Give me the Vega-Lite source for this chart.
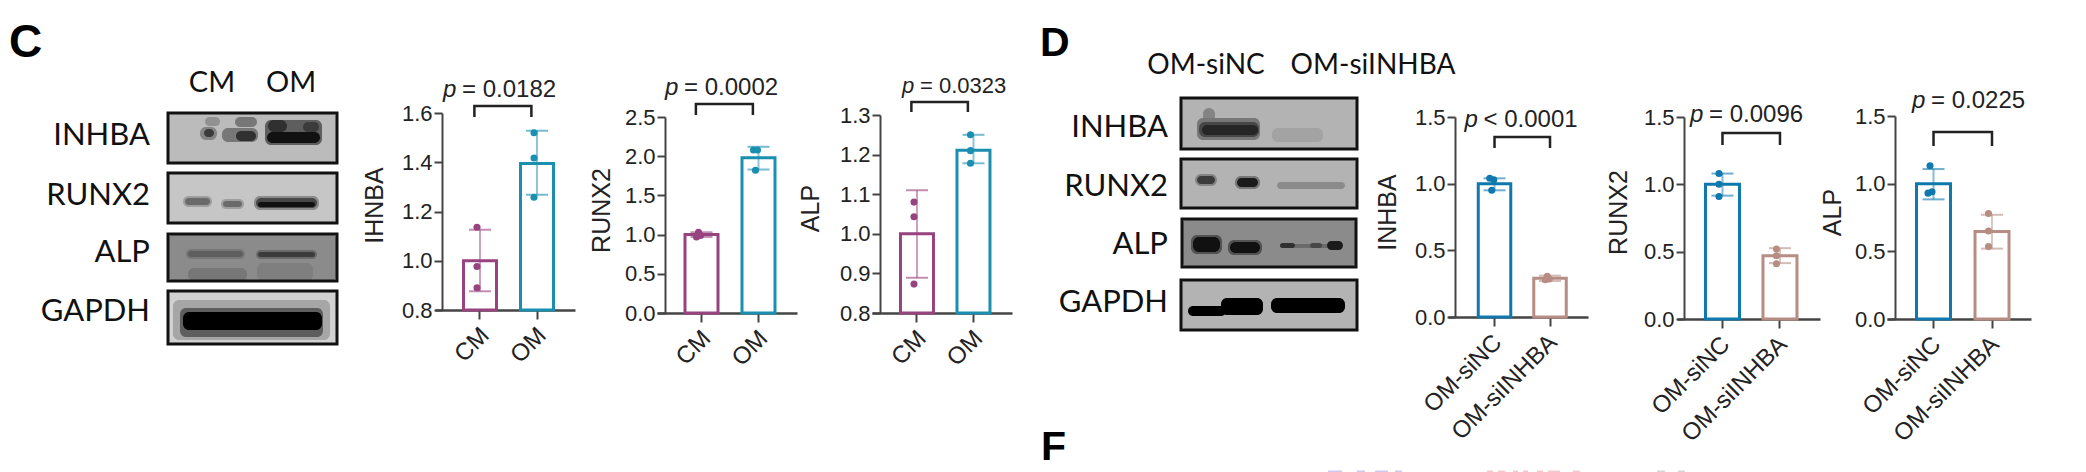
{"$schema":"https://vega.github.io/schema/vega-lite/v6.json","padding":0,"background":"white","spacing":0,"bounds":"flush","config":{"view":{"stroke":null},"font":"Liberation Sans","axis":{"grid":false}},
"resolve":{"scale":{"color":"independent","stroke":"independent"}},
"hconcat":[
{"width":435,"height":472,"encoding":{"x":{"field":"x0","type":"quantitative","scale":{"domain":[0,435],"range":[0,435],"nice":false,"zero":false},"axis":null},"y":{"field":"y0","type":"quantitative","scale":{"domain":[0,472],"range":[0,472],"nice":false,"zero":false},"axis":null}},"layer":[
{"data":{"values":[
{"x0":168,"x1":337,"y0":113,"y1":163,"signal":0.24},{"x0":168,"x1":337,"y0":173,"y1":223,"signal":0.2},{"x0":168,"x1":337,"y0":234,"y1":281,"signal":0.42},{"x0":168,"x1":337,"y0":291,"y1":344,"signal":0.16},
{"x0":205,"x1":220,"y0":117,"y1":126,"signal":0.4},{"x0":200,"x1":217,"y0":127,"y1":140,"signal":0.45},{"x0":204,"x1":214,"y0":129,"y1":137,"signal":0.75},{"x0":235,"x1":257,"y0":117,"y1":127,"signal":0.5},{"x0":222,"x1":258,"y0":128,"y1":142,"signal":0.5},{"x0":236,"x1":256,"y0":131,"y1":141,"signal":0.8},{"x0":265,"x1":322,"y0":120,"y1":145,"signal":0.6},{"x0":268,"x1":287,"y0":120,"y1":132,"signal":0.8},{"x0":303,"x1":319,"y0":122,"y1":132,"signal":0.75},{"x0":267,"x1":320,"y0":132,"y1":143,"signal":0.95},
{"x0":183,"x1":212,"y0":196,"y1":207,"signal":0.35},{"x0":185,"x1":210,"y0":198,"y1":205,"signal":0.55},{"x0":221,"x1":244,"y0":199,"y1":209,"signal":0.35},{"x0":223,"x1":242,"y0":201,"y1":207,"signal":0.55},{"x0":254,"x1":319,"y0":196,"y1":210,"signal":0.42},{"x0":256,"x1":317,"y0":198,"y1":208,"signal":0.7},{"x0":258,"x1":315,"y0":202,"y1":207,"signal":0.95},
{"x0":188,"x1":247,"y0":268,"y1":281,"signal":0.5},{"x0":257,"x1":313,"y0":263,"y1":281,"signal":0.47},{"x0":186,"x1":245,"y0":249,"y1":259,"signal":0.5},{"x0":188,"x1":243,"y0":251,"y1":257,"signal":0.6},{"x0":256,"x1":317,"y0":250,"y1":259,"signal":0.55},{"x0":258,"x1":315,"y0":252,"y1":257,"signal":0.75},
{"x0":173,"x1":330,"y0":300,"y1":340,"signal":0.32},{"x0":180,"x1":323,"y0":308,"y1":337,"signal":0.6},{"x0":183,"x1":322,"y0":312,"y1":330,"signal":1}
]},"mark":{"type":"rect","cornerRadius":6},"encoding":{"x2":{"field":"x1"},"y2":{"field":"y1"},"color":{"field":"signal","type":"quantitative","scale":{"domain":[0,1],"range":["#ffffff","#000000"]},"legend":null}}},
{"data":{"values":[{"x0":168,"x1":337,"y0":113,"y1":163},{"x0":168,"x1":337,"y0":173,"y1":223},{"x0":168,"x1":337,"y0":234,"y1":281},{"x0":168,"x1":337,"y0":291,"y1":344}]},"mark":{"type":"rect","fill":"transparent","stroke":"#111111","strokeWidth":3},"encoding":{"x2":{"field":"x1"},"y2":{"field":"y1"}}},
{"data":{"values":[{"x0":150,"y0":136,"label":"INHBA"},{"x0":150,"y0":196,"label":"RUNX2"},{"x0":150,"y0":253,"label":"ALP"},{"x0":150,"y0":312,"label":"GAPDH"}]},"mark":{"type":"text","font":"Lato","fontSize":31,"align":"right","baseline":"middle","color":"#111111"},"encoding":{"text":{"field":"label"}}},
{"data":{"values":[{"x0":212,"y0":83,"label":"CM"},{"x0":291,"y0":83,"label":"OM"}]},"mark":{"type":"text","font":"Lato","fontSize":29,"align":"center","baseline":"middle","color":"#111111"},"encoding":{"text":{"field":"label"}}},
{"data":{"values":[{"x0":9,"y0":57,"label":"C"}]},"mark":{"type":"text","fontSize":46,"fontWeight":"bold","align":"left","baseline":"alphabetic","color":"#000000"},"encoding":{"text":{"field":"label"}}}
]},
{"width":222,"height":310,"encoding":{"x":{"field":"group","type":"nominal","scale":{"type":"band","domain":["CM","OM"],"range":[0,140],"paddingInner":0.421,"paddingOuter":0.4385,"align":0.57},"axis":{"title":null,"labelAngle":-45,"labelFontSize":24,"labelColor":"#222222","tickSize":9,"tickWidth":2,"tickColor":"#444444","domainWidth":2.5,"domainColor":"#444444","labelPadding":4,"labelOffset":-3}},"y":{"field":"value","type":"quantitative","stack":null,"title":"IHNBA","scale":{"domain":[0.8,1.6],"range":[310,113],"nice":false,"zero":false},"axis":{"title":"IHNBA","titleY":205,"titleFontSize":25,"titleFontWeight":"normal","titleColor":"#222222","titlePadding":14,"values":[0.8,1.0,1.2,1.4,1.6],"format":".1f","labelFontSize":22,"labelColor":"#222222","offset":-7,"tickSize":8,"tickWidth":2,"tickColor":"#444444","domainWidth":2,"domainColor":"#444444","labelPadding":2}}},"layer":[
{"data":{"values":[{"group":"CM","value":1.0},{"group":"OM","value":1.395}]},"mark":{"type":"bar","fill":"white","strokeWidth":3,"width":33},"encoding":{"stroke":{"field":"group","type":"nominal","scale":{"domain":["CM","OM"],"range":["#97437f","#1a8fb0"]},"legend":null}}},
{"data":{"values":[{"group":"CM","value":1.126,"lo":0.876},{"group":"OM","value":1.528,"lo":1.268}]},"mark":{"type":"rule","strokeWidth":2,"opacity":0.5},"encoding":{"y2":{"field":"lo"},"stroke":{"field":"group","type":"nominal","legend":null}}},
{"data":{"values":[{"group":"CM","value":1.126},{"group":"CM","value":0.876},{"group":"OM","value":1.528},{"group":"OM","value":1.268}]},"mark":{"type":"tick","size":22,"thickness":2,"opacity":0.6},"encoding":{"color":{"field":"group","type":"nominal","scale":{"domain":["CM","OM"],"range":["#97437f","#1a8fb0"]},"legend":null}}},
{"data":{"values":[{"group":"CM","value":1.136,"slot":"c"},{"group":"CM","value":0.977,"slot":"c"},{"group":"CM","value":0.89,"slot":"c"},{"group":"OM","value":1.52,"slot":"c"},{"group":"OM","value":1.417,"slot":"c"},{"group":"OM","value":1.258,"slot":"c"}]},"mark":{"type":"point","filled":true,"size":50,"opacity":1},"encoding":{"color":{"field":"group","type":"nominal","legend":null},"xOffset":{"field":"slot","type":"nominal","scale":{"domain":["l","c","r"],"range":[10.5,16.5,22.5]}}}},
{"data":{"values":[{"group":"CM","value":1.584,"seq":1},{"group":"CM","value":1.628,"seq":2},{"group":"OM","value":1.628,"seq":3},{"group":"OM","value":1.584,"seq":4}]},"mark":{"type":"line","stroke":"#222222","strokeWidth":2.5},"encoding":{"x":{"field":"group","type":"nominal","bandPosition":0.33},"order":{"field":"seq","type":"quantitative"}}},
{"data":{"values":[{"group":"CM","value":1.665,"label":"p"}]},"mark":{"type":"text","fontSize":24,"fontStyle":"italic","align":"left","baseline":"alphabetic","dx":-37,"color":"#222222"},"encoding":{"text":{"field":"label"}}},
{"data":{"values":[{"group":"CM","value":1.665,"label":"= 0.0182"}]},"mark":{"type":"text","fontSize":24,"align":"left","baseline":"alphabetic","dx":-18,"color":"#222222"},"encoding":{"text":{"field":"label"}}}
]},
{"width":215,"height":313,"encoding":{"x":{"field":"group","type":"nominal","scale":{"type":"band","domain":["CM","OM"],"range":[0,140],"paddingInner":0.421,"paddingOuter":0.4385,"align":0.56},"axis":{"title":null,"labelAngle":-45,"labelFontSize":24,"labelColor":"#222222","tickSize":9,"tickWidth":2,"tickColor":"#444444","domainWidth":2.5,"domainColor":"#444444","labelPadding":4,"labelOffset":-3}},"y":{"field":"value","type":"quantitative","stack":null,"title":"RUNX2","scale":{"domain":[0,2.5],"range":[313,117],"nice":false,"zero":false},"axis":{"title":"RUNX2","titleY":210,"titleFontSize":25,"titleFontWeight":"normal","titleColor":"#222222","titlePadding":10,"values":[0,0.5,1.0,1.5,2.0,2.5],"format":".1f","labelFontSize":22,"labelColor":"#222222","offset":-8,"tickSize":8,"tickWidth":2,"tickColor":"#444444","domainWidth":2,"domainColor":"#444444","labelPadding":2}}},"layer":[
{"data":{"values":[{"group":"CM","value":1.0},{"group":"OM","value":1.98}]},"mark":{"type":"bar","fill":"white","strokeWidth":3,"width":33},"encoding":{"stroke":{"field":"group","type":"nominal","scale":{"domain":["CM","OM"],"range":["#97437f","#1a8fb0"]},"legend":null}}},
{"data":{"values":[{"group":"CM","value":1.03,"lo":0.97},{"group":"OM","value":2.12,"lo":1.83}]},"mark":{"type":"rule","strokeWidth":2,"opacity":0.5},"encoding":{"y2":{"field":"lo"},"stroke":{"field":"group","type":"nominal","legend":null}}},
{"data":{"values":[{"group":"CM","value":1.03},{"group":"CM","value":0.97},{"group":"OM","value":2.12},{"group":"OM","value":1.83}]},"mark":{"type":"tick","size":22,"thickness":2,"opacity":0.6},"encoding":{"color":{"field":"group","type":"nominal","scale":{"domain":["CM","OM"],"range":["#97437f","#1a8fb0"]},"legend":null}}},
{"data":{"values":[{"group":"CM","value":0.97,"slot":"l"},{"group":"CM","value":1.03,"slot":"c"},{"group":"CM","value":0.99,"slot":"r"},{"group":"OM","value":2.08,"slot":"l"},{"group":"OM","value":2.08,"slot":"r"},{"group":"OM","value":1.82,"slot":"c"}]},"mark":{"type":"point","filled":true,"size":50,"opacity":1},"encoding":{"color":{"field":"group","type":"nominal","legend":null},"xOffset":{"field":"slot","type":"nominal","scale":{"domain":["l","c","r"],"range":[10.5,16.5,22.5]}}}},
{"data":{"values":[{"group":"CM","value":2.526,"seq":1},{"group":"CM","value":2.666,"seq":2},{"group":"OM","value":2.666,"seq":3},{"group":"OM","value":2.526,"seq":4}]},"mark":{"type":"line","stroke":"#222222","strokeWidth":2.5},"encoding":{"x":{"field":"group","type":"nominal","bandPosition":0.33},"order":{"field":"seq","type":"quantitative"}}},
{"data":{"values":[{"group":"CM","value":2.781,"label":"p"}]},"mark":{"type":"text","fontSize":24,"fontStyle":"italic","align":"left","baseline":"alphabetic","dx":-36.5,"color":"#222222"},"encoding":{"text":{"field":"label"}}},
{"data":{"values":[{"group":"CM","value":2.781,"label":"= 0.0002"}]},"mark":{"type":"text","fontSize":24,"align":"left","baseline":"alphabetic","dx":-17.5,"color":"#222222"},"encoding":{"text":{"field":"label"}}}
]},
{"width":168,"height":313,"encoding":{"x":{"field":"group","type":"nominal","scale":{"type":"band","domain":["CM","OM"],"range":[0,140],"paddingInner":0.416,"paddingOuter":0.447,"align":0.564},"axis":{"title":null,"labelAngle":-45,"labelFontSize":24,"labelColor":"#222222","tickSize":9,"tickWidth":2,"tickColor":"#444444","domainWidth":2.5,"domainColor":"#444444","labelPadding":4,"labelOffset":-3}},"y":{"field":"value","type":"quantitative","stack":null,"title":"ALP","scale":{"domain":[0.8,1.3],"range":[313,115],"nice":false,"zero":false},"axis":{"title":"ALP","titleY":208,"titleFontSize":25,"titleFontWeight":"normal","titleColor":"#222222","titlePadding":16,"values":[0.8,0.9,1.0,1.1,1.2,1.3],"format":".1f","labelFontSize":22,"labelColor":"#222222","offset":-8,"tickSize":8,"tickWidth":2,"tickColor":"#444444","domainWidth":2,"domainColor":"#444444","labelPadding":2}}},"layer":[
{"data":{"values":[{"group":"CM","value":1.0},{"group":"OM","value":1.211}]},"mark":{"type":"bar","fill":"white","strokeWidth":3,"width":33},"encoding":{"stroke":{"field":"group","type":"nominal","scale":{"domain":["CM","OM"],"range":["#97437f","#1a8fb0"]},"legend":null}}},
{"data":{"values":[{"group":"CM","value":1.11,"lo":0.889},{"group":"OM","value":1.25,"lo":1.178}]},"mark":{"type":"rule","strokeWidth":2,"opacity":0.5},"encoding":{"y2":{"field":"lo"},"stroke":{"field":"group","type":"nominal","legend":null}}},
{"data":{"values":[{"group":"CM","value":1.11},{"group":"CM","value":0.889},{"group":"OM","value":1.25},{"group":"OM","value":1.178}]},"mark":{"type":"tick","size":22,"thickness":2,"opacity":0.6},"encoding":{"color":{"field":"group","type":"nominal","scale":{"domain":["CM","OM"],"range":["#97437f","#1a8fb0"]},"legend":null}}},
{"data":{"values":[{"group":"CM","value":1.08,"slot":"c"},{"group":"CM","value":1.043,"slot":"c"},{"group":"CM","value":0.873,"slot":"c"},{"group":"OM","value":1.25,"slot":"c"},{"group":"OM","value":1.21,"slot":"c"},{"group":"OM","value":1.178,"slot":"c"}]},"mark":{"type":"point","filled":true,"size":50,"opacity":1},"encoding":{"color":{"field":"group","type":"nominal","legend":null},"xOffset":{"field":"slot","type":"nominal","scale":{"domain":["l","c","r"],"range":[10.5,16.5,22.5]}}}},
{"data":{"values":[{"group":"CM","value":1.3075,"seq":1},{"group":"CM","value":1.333,"seq":2},{"group":"OM","value":1.333,"seq":3},{"group":"OM","value":1.3075,"seq":4}]},"mark":{"type":"line","stroke":"#222222","strokeWidth":2.5},"encoding":{"x":{"field":"group","type":"nominal","bandPosition":0.33},"order":{"field":"seq","type":"quantitative"}}},
{"data":{"values":[{"group":"CM","value":1.3555,"label":"p"}]},"mark":{"type":"text","fontSize":22,"fontStyle":"italic","align":"left","baseline":"alphabetic","dx":-15,"color":"#222222"},"encoding":{"text":{"field":"label"}}},
{"data":{"values":[{"group":"CM","value":1.3555,"label":"= 0.0323"}]},"mark":{"type":"text","fontSize":22,"align":"left","baseline":"alphabetic","dx":3,"color":"#222222"},"encoding":{"text":{"field":"label"}}}
]},
{"width":408,"height":472,"encoding":{"x":{"field":"x0","type":"quantitative","scale":{"domain":[0,408],"range":[0,408],"nice":false,"zero":false},"axis":null},"y":{"field":"y0","type":"quantitative","scale":{"domain":[0,472],"range":[0,472],"nice":false,"zero":false},"axis":null}},"layer":[
{"data":{"values":[
{"x0":141,"x1":317,"y0":98,"y1":149,"signal":0.27},{"x0":141,"x1":317,"y0":159,"y1":208,"signal":0.27},{"x0":142,"x1":316,"y0":219,"y1":267,"signal":0.42},{"x0":141,"x1":317,"y0":280,"y1":330,"signal":0.27},
{"x0":163,"x1":175,"y0":108,"y1":122,"signal":0.45},{"x0":157,"x1":220,"y0":118,"y1":140,"signal":0.5},{"x0":159,"x1":219,"y0":122,"y1":137,"signal":0.7},{"x0":162,"x1":218,"y0":125,"y1":135,"signal":0.85},{"x0":232,"x1":283,"y0":128,"y1":142,"signal":0.33},
{"x0":155,"x1":177,"y0":174,"y1":186,"signal":0.45},{"x0":157,"x1":175,"y0":176,"y1":184,"signal":0.75},{"x0":195,"x1":220,"y0":176,"y1":189,"signal":0.5},{"x0":197,"x1":218,"y0":178,"y1":187,"signal":0.9},{"x0":237,"x1":305,"y0":182,"y1":189,"signal":0.42},
{"x0":240,"x1":300,"y0":244,"y1":248,"signal":0.55},{"x0":151,"x1":182,"y0":235,"y1":254,"signal":0.65},{"x0":153,"x1":180,"y0":237,"y1":252,"signal":0.95},{"x0":188,"x1":222,"y0":240,"y1":255,"signal":0.65},{"x0":190,"x1":220,"y0":242,"y1":253,"signal":0.95},{"x0":240,"x1":255,"y0":243,"y1":248,"signal":0.8},{"x0":270,"x1":282,"y0":243,"y1":248,"signal":0.7},{"x0":287,"x1":303,"y0":241,"y1":250,"signal":0.9},
{"x0":148,"x1":186,"y0":306,"y1":316,"signal":1},{"x0":181,"x1":223,"y0":298,"y1":315,"signal":1},{"x0":231,"x1":305,"y0":298,"y1":313,"signal":1}
]},"mark":{"type":"rect","cornerRadius":6},"encoding":{"x2":{"field":"x1"},"y2":{"field":"y1"},"color":{"field":"signal","type":"quantitative","scale":{"domain":[0,1],"range":["#ffffff","#000000"]},"legend":null}}},
{"data":{"values":[{"x0":141,"x1":317,"y0":98,"y1":149},{"x0":141,"x1":317,"y0":159,"y1":208},{"x0":142,"x1":316,"y0":219,"y1":267},{"x0":141,"x1":317,"y0":280,"y1":330}]},"mark":{"type":"rect","fill":"transparent","stroke":"#111111","strokeWidth":3},"encoding":{"x2":{"field":"x1"},"y2":{"field":"y1"}}},
{"data":{"values":[{"x0":128,"y0":128,"label":"INHBA"},{"x0":128,"y0":187,"label":"RUNX2"},{"x0":128,"y0":245,"label":"ALP"},{"x0":128,"y0":303,"label":"GAPDH"}]},"mark":{"type":"text","font":"Lato","fontSize":31,"align":"right","baseline":"middle","color":"#111111"},"encoding":{"text":{"field":"label"}}},
{"data":{"values":[{"x0":166,"y0":66,"label":"OM-siNC"},{"x0":333,"y0":66,"label":"OM-siINHBA"}]},"mark":{"type":"text","font":"Lato","fontSize":28,"align":"center","baseline":"middle","color":"#111111"},"encoding":{"text":{"field":"label"}}},
{"data":{"values":[{"x0":0,"y0":56,"label":"D"},{"x0":1,"y0":460,"label":"F"}]},"mark":{"type":"text","fontSize":41,"fontWeight":"bold","align":"left","baseline":"alphabetic","color":"#000000"},"encoding":{"text":{"field":"label"}}},
{"data":{"values":[{"x0":288,"x1":302,"y0":470.5,"y1":472},{"x0":317,"x1":325,"y0":470.5,"y1":472},{"x0":335,"x1":348,"y0":470.5,"y1":472},{"x0":355,"x1":362,"y0":470.5,"y1":472}]},"mark":{"type":"rect","fill":"#cfc8ec"},"encoding":{"x2":{"field":"x1"},"y2":{"field":"y1"}}},
{"data":{"values":[{"x0":447,"x1":453,"y0":470.5,"y1":472},{"x0":458,"x1":465,"y0":470.5,"y1":472},{"x0":473,"x1":478,"y0":470.5,"y1":472},{"x0":483,"x1":488,"y0":470.5,"y1":472},{"x0":497,"x1":503,"y0":470.5,"y1":472},{"x0":508,"x1":520,"y0":470.5,"y1":472},{"x0":533,"x1":540,"y0":470.5,"y1":472}]},"mark":{"type":"rect","fill":"#f2c8cf"},"encoding":{"x2":{"field":"x1"},"y2":{"field":"y1"}}},
{"data":{"values":[{"x0":617,"x1":625,"y0":470.5,"y1":472},{"x0":638,"x1":645,"y0":470.5,"y1":472}]},"mark":{"type":"rect","fill":"#d5d5d5"},"encoding":{"x2":{"field":"x1"},"y2":{"field":"y1"}}}
]},
{"width":229,"height":317,"encoding":{"x":{"field":"group","type":"nominal","scale":{"type":"band","domain":["OM-siNC","OM-siINHBA"],"range":[0,140],"paddingInner":0.414,"paddingOuter":0.4685,"align":0.582},"axis":{"title":null,"labelAngle":-45,"labelFontSize":24,"labelColor":"#222222","tickSize":9,"tickWidth":2,"tickColor":"#444444","domainWidth":2.5,"domainColor":"#444444","labelPadding":4,"labelOffset":-5}},"y":{"field":"value","type":"quantitative","stack":null,"title":"INHBA","scale":{"domain":[0,1.5],"range":[317,117],"nice":false,"zero":false},"axis":{"title":"INHBA","titleY":212,"titleFontSize":25,"titleFontWeight":"normal","titleColor":"#222222","titlePadding":14,"values":[0,0.5,1.0,1.5],"format":".1f","labelFontSize":22,"labelColor":"#222222","offset":-7,"tickSize":8,"tickWidth":2,"tickColor":"#444444","domainWidth":2,"domainColor":"#444444","labelPadding":2}}},"layer":[
{"data":{"values":[{"group":"OM-siNC","value":1.0},{"group":"OM-siINHBA","value":0.29}]},"mark":{"type":"bar","fill":"white","strokeWidth":3,"width":32.5},"encoding":{"stroke":{"field":"group","type":"nominal","scale":{"domain":["OM-siNC","OM-siINHBA"],"range":["#0f78ad","#b78d83"]},"legend":null}}},
{"data":{"values":[{"group":"OM-siNC","value":1.04,"lo":0.95},{"group":"OM-siINHBA","value":0.31,"lo":0.27}]},"mark":{"type":"rule","strokeWidth":2,"opacity":0.5},"encoding":{"y2":{"field":"lo"},"stroke":{"field":"group","type":"nominal","legend":null}}},
{"data":{"values":[{"group":"OM-siNC","value":1.04},{"group":"OM-siNC","value":0.95},{"group":"OM-siINHBA","value":0.31},{"group":"OM-siINHBA","value":0.27}]},"mark":{"type":"tick","size":22,"thickness":2,"opacity":0.6},"encoding":{"color":{"field":"group","type":"nominal","scale":{"domain":["OM-siNC","OM-siINHBA"],"range":["#0f78ad","#b78d83"]},"legend":null}}},
{"data":{"values":[{"group":"OM-siNC","value":1.04,"slot":"l"},{"group":"OM-siNC","value":1.03,"slot":"r"},{"group":"OM-siNC","value":0.95,"slot":"c"},{"group":"OM-siINHBA","value":0.28,"slot":"l"},{"group":"OM-siINHBA","value":0.305,"slot":"c"},{"group":"OM-siINHBA","value":0.285,"slot":"r"}]},"mark":{"type":"point","filled":true,"size":50,"opacity":1},"encoding":{"color":{"field":"group","type":"nominal","legend":null},"xOffset":{"field":"slot","type":"nominal","scale":{"domain":["l","c","r"],"range":[10,16,22]}}}},
{"data":{"values":[{"group":"OM-siNC","value":1.2675,"seq":1},{"group":"OM-siNC","value":1.35,"seq":2},{"group":"OM-siINHBA","value":1.35,"seq":3},{"group":"OM-siINHBA","value":1.2675,"seq":4}]},"mark":{"type":"line","stroke":"#222222","strokeWidth":2.5},"encoding":{"order":{"field":"seq","type":"quantitative"}}},
{"data":{"values":[{"group":"OM-siNC","value":1.425,"label":"p"}]},"mark":{"type":"text","fontSize":24,"fontStyle":"italic","align":"left","baseline":"alphabetic","dx":-30,"color":"#222222"},"encoding":{"text":{"field":"label"}}},
{"data":{"values":[{"group":"OM-siNC","value":1.425,"label":"< 0.0001"}]},"mark":{"type":"text","fontSize":24,"align":"left","baseline":"alphabetic","dx":-11,"color":"#222222"},"encoding":{"text":{"field":"label"}}}
]},
{"width":210,"height":319,"encoding":{"x":{"field":"group","type":"nominal","scale":{"type":"band","domain":["OM-siNC","OM-siINHBA"],"range":[0,143],"paddingInner":0.409,"paddingOuter":0.448,"align":0.553},"axis":{"title":null,"labelAngle":-45,"labelFontSize":24,"labelColor":"#222222","tickSize":9,"tickWidth":2,"tickColor":"#444444","domainWidth":2.5,"domainColor":"#444444","labelPadding":4,"labelOffset":-5}},"y":{"field":"value","type":"quantitative","stack":null,"title":"RUNX2","scale":{"domain":[0,1.5],"range":[319,117],"nice":false,"zero":false},"axis":{"title":"RUNX2","titleY":212,"titleFontSize":25,"titleFontWeight":"normal","titleColor":"#222222","titlePadding":12,"values":[0,0.5,1.0,1.5],"format":".1f","labelFontSize":22,"labelColor":"#222222","offset":-7,"tickSize":8,"tickWidth":2,"tickColor":"#444444","domainWidth":2,"domainColor":"#444444","labelPadding":2}}},"layer":[
{"data":{"values":[{"group":"OM-siNC","value":1.0},{"group":"OM-siINHBA","value":0.47}]},"mark":{"type":"bar","fill":"white","strokeWidth":3,"width":34},"encoding":{"stroke":{"field":"group","type":"nominal","scale":{"domain":["OM-siNC","OM-siINHBA"],"range":["#0f78ad","#b78d83"]},"legend":null}}},
{"data":{"values":[{"group":"OM-siNC","value":1.08,"lo":0.916},{"group":"OM-siINHBA","value":0.526,"lo":0.415}]},"mark":{"type":"rule","strokeWidth":2,"opacity":0.5},"encoding":{"y2":{"field":"lo"},"stroke":{"field":"group","type":"nominal","legend":null}}},
{"data":{"values":[{"group":"OM-siNC","value":1.08},{"group":"OM-siNC","value":0.916},{"group":"OM-siINHBA","value":0.526},{"group":"OM-siINHBA","value":0.415}]},"mark":{"type":"tick","size":22,"thickness":2,"opacity":0.6},"encoding":{"color":{"field":"group","type":"nominal","scale":{"domain":["OM-siNC","OM-siINHBA"],"range":["#0f78ad","#b78d83"]},"legend":null}}},
{"data":{"values":[{"group":"OM-siNC","value":1.08,"slot":"c"},{"group":"OM-siNC","value":1.0,"slot":"c"},{"group":"OM-siNC","value":0.91,"slot":"c"},{"group":"OM-siINHBA","value":0.52,"slot":"c"},{"group":"OM-siINHBA","value":0.47,"slot":"c"},{"group":"OM-siINHBA","value":0.41,"slot":"c"}]},"mark":{"type":"point","filled":true,"size":50,"opacity":1},"encoding":{"color":{"field":"group","type":"nominal","legend":null},"xOffset":{"field":"slot","type":"nominal","scale":{"domain":["l","c","r"],"range":[11,17,23]}}}},
{"data":{"values":[{"group":"OM-siNC","value":1.292,"seq":1},{"group":"OM-siNC","value":1.381,"seq":2},{"group":"OM-siINHBA","value":1.381,"seq":3},{"group":"OM-siINHBA","value":1.292,"seq":4}]},"mark":{"type":"line","stroke":"#222222","strokeWidth":2.5},"encoding":{"order":{"field":"seq","type":"quantitative"}}},
{"data":{"values":[{"group":"OM-siNC","value":1.463,"label":"p"}]},"mark":{"type":"text","fontSize":24,"fontStyle":"italic","align":"left","baseline":"alphabetic","dx":-32.5,"color":"#222222"},"encoding":{"text":{"field":"label"}}},
{"data":{"values":[{"group":"OM-siNC","value":1.463,"label":"= 0.0096"}]},"mark":{"type":"text","fontSize":24,"align":"left","baseline":"alphabetic","dx":-13.5,"color":"#222222"},"encoding":{"text":{"field":"label"}}}
]},
{"width":199,"height":319,"encoding":{"x":{"field":"group","type":"nominal","scale":{"type":"band","domain":["OM-siNC","OM-siINHBA"],"range":[0,144],"paddingInner":0.419,"paddingOuter":0.4405,"align":0.573},"axis":{"title":null,"labelAngle":-45,"labelFontSize":24,"labelColor":"#222222","tickSize":9,"tickWidth":2,"tickColor":"#444444","domainWidth":2.5,"domainColor":"#444444","labelPadding":4,"labelOffset":-5}},"y":{"field":"value","type":"quantitative","stack":null,"title":"ALP","scale":{"domain":[0,1.5],"range":[319,116],"nice":false,"zero":false},"axis":{"title":"ALP","titleY":212,"titleFontSize":25,"titleFontWeight":"normal","titleColor":"#222222","titlePadding":9,"values":[0,0.5,1.0,1.5],"format":".1f","labelFontSize":22,"labelColor":"#222222","offset":-8,"tickSize":8,"tickWidth":2,"tickColor":"#444444","domainWidth":2,"domainColor":"#444444","labelPadding":2}}},"layer":[
{"data":{"values":[{"group":"OM-siNC","value":1.0},{"group":"OM-siINHBA","value":0.646}]},"mark":{"type":"bar","fill":"white","strokeWidth":3,"width":34},"encoding":{"stroke":{"field":"group","type":"nominal","scale":{"domain":["OM-siNC","OM-siINHBA"],"range":["#0f78ad","#b78d83"]},"legend":null}}},
{"data":{"values":[{"group":"OM-siNC","value":1.108,"lo":0.884},{"group":"OM-siINHBA","value":0.77,"lo":0.52}]},"mark":{"type":"rule","strokeWidth":2,"opacity":0.5},"encoding":{"y2":{"field":"lo"},"stroke":{"field":"group","type":"nominal","legend":null}}},
{"data":{"values":[{"group":"OM-siNC","value":1.108},{"group":"OM-siNC","value":0.884},{"group":"OM-siINHBA","value":0.77},{"group":"OM-siINHBA","value":0.52}]},"mark":{"type":"tick","size":22,"thickness":2,"opacity":0.6},"encoding":{"color":{"field":"group","type":"nominal","scale":{"domain":["OM-siNC","OM-siINHBA"],"range":["#0f78ad","#b78d83"]},"legend":null}}},
{"data":{"values":[{"group":"OM-siNC","value":1.133,"slot":"c"},{"group":"OM-siNC","value":0.93,"slot":"l"},{"group":"OM-siNC","value":0.94,"slot":"r"},{"group":"OM-siINHBA","value":0.78,"slot":"c"},{"group":"OM-siINHBA","value":0.65,"slot":"c"},{"group":"OM-siINHBA","value":0.535,"slot":"c"}]},"mark":{"type":"point","filled":true,"size":50,"opacity":1},"encoding":{"color":{"field":"group","type":"nominal","legend":null},"xOffset":{"field":"slot","type":"nominal","scale":{"domain":["l","c","r"],"range":[11,17,23]}}}},
{"data":{"values":[{"group":"OM-siNC","value":1.278,"seq":1},{"group":"OM-siNC","value":1.382,"seq":2},{"group":"OM-siINHBA","value":1.382,"seq":3},{"group":"OM-siINHBA","value":1.278,"seq":4}]},"mark":{"type":"line","stroke":"#222222","strokeWidth":2.5},"encoding":{"order":{"field":"seq","type":"quantitative"}}},
{"data":{"values":[{"group":"OM-siNC","value":1.559,"label":"p"}]},"mark":{"type":"text","fontSize":24,"fontStyle":"italic","align":"left","baseline":"alphabetic","dx":-21.5,"color":"#222222"},"encoding":{"text":{"field":"label"}}},
{"data":{"values":[{"group":"OM-siNC","value":1.559,"label":"= 0.0225"}]},"mark":{"type":"text","fontSize":24,"align":"left","baseline":"alphabetic","dx":-2.5,"color":"#222222"},"encoding":{"text":{"field":"label"}}}
]}
]}
